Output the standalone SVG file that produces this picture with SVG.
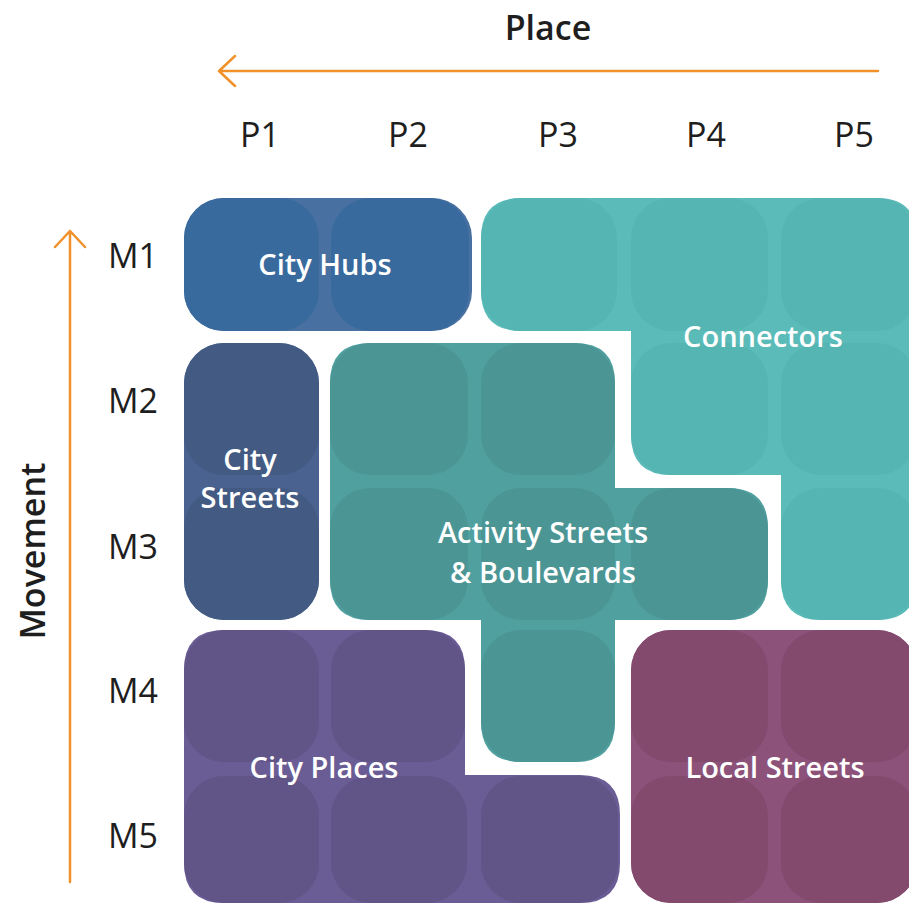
<svg xmlns="http://www.w3.org/2000/svg" width="909" height="904" viewBox="0 0 909 904">
<style>
  .axis { font-family: "Open Sans", "Noto Sans", "Liberation Sans", sans-serif; fill: #1e1e1e; }
  .title { font-size: 34px; font-weight: 600; }
  .tick { font-size: 34px; }
  .lbl { font-family: "Open Sans", "Noto Sans", "Liberation Sans", sans-serif; font-size: 29px; font-weight: 600; fill: #ffffff; text-anchor: middle; }
  .arrow { stroke: #f0912a; stroke-width: 2.5; fill: none; stroke-linecap: round; stroke-linejoin: round; }
  .hubs { fill: #4870a0; } .hubs .c { fill: #386a9d; }
  .conn { fill: #5bbbb9; } .conn .c { fill: #55b5b3; }
  .strt { fill: #4a6290; } .strt .c { fill: #435a83; }
  .act { fill: #51a0a0; } .act .c { fill: #4c9595; }
  .plc { fill: #6a5c94; } .plc .c { fill: #615487; }
  .loc { fill: #8c527a; } .loc .c { fill: #834a6e; }
</style>
<rect width="909" height="904" fill="#ffffff"/>

<g id="axes">
  <text class="axis title" x="548" y="40" text-anchor="middle">Place</text>
  <text class="axis tick" x="260" y="147" text-anchor="middle">P1</text>
  <text class="axis tick" x="408" y="147" text-anchor="middle">P2</text>
  <text class="axis tick" x="558" y="147" text-anchor="middle">P3</text>
  <text class="axis tick" x="706" y="147" text-anchor="middle">P4</text>
  <text class="axis tick" x="854" y="147" text-anchor="middle">P5</text>
  <text class="axis tick" x="133" y="268" text-anchor="middle">M1</text>
  <text class="axis tick" x="133" y="413" text-anchor="middle">M2</text>
  <text class="axis tick" x="133" y="559" text-anchor="middle">M3</text>
  <text class="axis tick" x="133" y="703" text-anchor="middle">M4</text>
  <text class="axis tick" x="133" y="848" text-anchor="middle">M5</text>
  <text class="axis title" transform="translate(45,551) rotate(-90)" text-anchor="middle">Movement</text>
</g>

<g id="connectors">
  <path class="arrow" d="M878,71 L219,71 M235,56 L219,71 L235,86"/>
  <path class="arrow" d="M70,882 L70,231 M55,247 L70,231 L85,247"/>
</g>

<g id="city-hubs" class="hubs">
  <rect x="184" y="198" width="288" height="133" rx="40"/>
  <rect class="c" x="184" y="198" width="135" height="133" rx="40"/>
  <rect class="c" x="331" y="198" width="138" height="133" rx="40"/>
  <text class="lbl" x="325" y="275">City Hubs</text>
</g>

<g id="connectors-node" class="conn">
  <path d="M521,198 H877 Q917,198 917,238 V580 Q917,620 877,620 H821 Q781,620 781,580 V475 H671 Q631,475 631,435 V331 H521 Q481,331 481,291 V238 Q481,198 521,198 Z"/>
  <rect class="c" x="481" y="198" width="136" height="133" rx="40"/>
  <rect class="c" x="631" y="198" width="137" height="133" rx="40"/>
  <rect class="c" x="781" y="198" width="136" height="133" rx="40"/>
  <rect class="c" x="631" y="343" width="137" height="132" rx="40"/>
  <rect class="c" x="781" y="343" width="136" height="132" rx="40"/>
  <rect class="c" x="781" y="488" width="136" height="132" rx="40"/>
  <text class="lbl" x="763" y="347">Connectors</text>
</g>

<g id="city-streets" class="strt">
  <rect x="184" y="343" width="135" height="277" rx="40"/>
  <rect class="c" x="184" y="343" width="135" height="132" rx="40"/>
  <rect class="c" x="184" y="488" width="135" height="132" rx="40"/>
  <text class="lbl" x="250" y="470">City</text>
  <text class="lbl" x="250" y="508">Streets</text>
</g>

<g id="activity-streets" class="act">
  <path d="M370,343 H575 Q615,343 615,383 V488 H728 Q768,488 768,528 V580 Q768,620 728,620 H615 V722 Q615,762 575,762 H521 Q481,762 481,722 V620 H370 Q330,620 330,580 V383 Q330,343 370,343 Z"/>
  <rect class="c" x="330" y="343" width="138" height="132" rx="40"/>
  <rect class="c" x="481" y="343" width="134" height="132" rx="40"/>
  <rect class="c" x="330" y="488" width="138" height="132" rx="40"/>
  <rect class="c" x="481" y="488" width="134" height="132" rx="40"/>
  <rect class="c" x="631" y="488" width="137" height="132" rx="40"/>
  <rect class="c" x="481" y="630" width="134" height="132" rx="40"/>
  <text class="lbl" x="543" y="543">Activity Streets</text>
  <text class="lbl" x="543" y="583">&amp; Boulevards</text>
</g>

<g id="city-places" class="plc">
  <path d="M224,630 H425 Q465,630 465,670 V775 H580 Q620,775 620,815 V863 Q620,903 580,903 H224 Q184,903 184,863 V670 Q184,630 224,630 Z"/>
  <rect class="c" x="184" y="630" width="135" height="132" rx="40"/>
  <rect class="c" x="331" y="630" width="134" height="132" rx="40"/>
  <rect class="c" x="184" y="776" width="135" height="127" rx="40"/>
  <rect class="c" x="331" y="776" width="136" height="127" rx="40"/>
  <rect class="c" x="481" y="776" width="137" height="127" rx="40"/>
  <text class="lbl" x="324" y="778">City Places</text>
</g>

<g id="local-streets" class="loc">
  <rect x="631" y="630" width="286" height="273" rx="40"/>
  <rect class="c" x="631" y="630" width="137" height="132" rx="40"/>
  <rect class="c" x="781" y="630" width="136" height="132" rx="40"/>
  <rect class="c" x="631" y="776" width="137" height="127" rx="40"/>
  <rect class="c" x="781" y="776" width="136" height="127" rx="40"/>
  <text class="lbl" x="775" y="778">Local Streets</text>
</g>
</svg>
